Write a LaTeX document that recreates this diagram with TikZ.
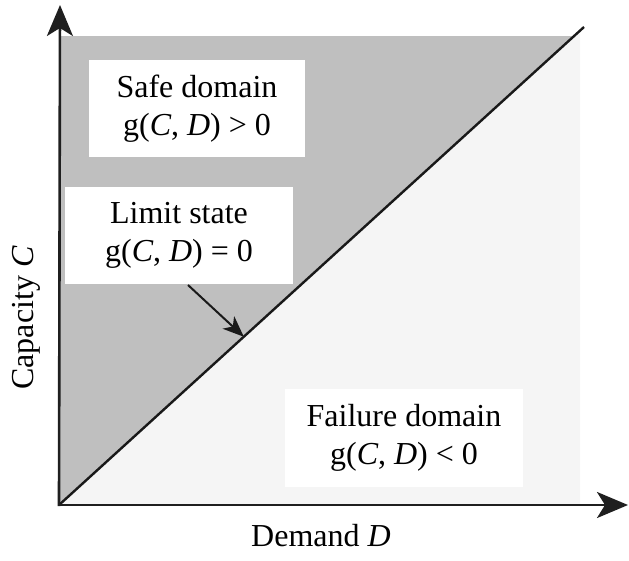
\documentclass[tikz,border=0pt]{standalone}
\usepackage{fontspec}
\setmainfont{Liberation Serif}
\usetikzlibrary{arrows.meta,calc}
\begin{document}
\begin{tikzpicture}[x=1pt,y=-1pt,
  lbl/.style={font=\fontsize{32}{38}\selectfont, align=center, inner sep=0pt},
  wbox/.style={fill=white, draw=none, align=center, inner sep=0pt, font=\fontsize{32}{38}\selectfont},
  axis/.style={line width=2.6pt, draw=black!88, -{Stealth[length=31pt,width=26pt,inset=8pt]}},
  diag/.style={line width=2.4pt, draw=black!90},
  pointer/.style={line width=2pt, draw=black!90, -{Stealth[length=21pt,width=17pt,inset=6pt]}}]
\useasboundingbox (0,0) rectangle (629,560);
\coordinate (O) at (59,505);
\coordinate (E) at (584,27);
\coordinate (ytip) at (60,5);
\coordinate (xtip) at (628,505);
% regions
\fill[black!4] (O) -- (580,505) -- (580,31.6) -- cycle;
\fill[black!25] (O) -- (60,36) -- (574.5,36) -- cycle;
% diagonal
\draw[diag] (O) -- (E);
\coordinate (hit) at ($(O)!0.352!(E)$);
% boxes
\node[wbox, minimum width=216pt, minimum height=97pt] (safe) at (197,108.5) {Safe domain\\g(\textit{C}, \textit{D}) > 0};
\node[wbox, minimum width=228pt, minimum height=97pt] (limit) at (179,235.5) {Limit state\\g(\textit{C}, \textit{D}) = 0};
\node[wbox, minimum width=238pt, minimum height=98pt] (fail) at (404,438) {Failure domain\\g(\textit{C}, \textit{D}) < 0};
% pointer
\coordinate (pstart) at (188,285);
\draw[pointer] (pstart) -- (hit);
% axes
\draw[axis] (59,506) -- (ytip);
\draw[axis] (58,505) -- (xtip);
% axis labels
\node[lbl, rotate=90] (ylab) at (26,318) {Capacity \textit{C}};
\node[lbl] (xlab) at (321,536) {Demand \textit{D}};
\end{tikzpicture}
\end{document}
